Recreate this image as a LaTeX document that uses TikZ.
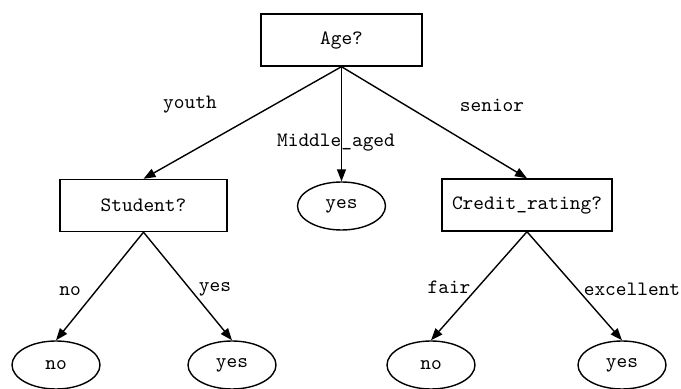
\documentclass[tikz,border=0pt]{standalone}
\usetikzlibrary{shapes.geometric,arrows.meta}

\tikzset{
    frage/.style={draw, rectangle, minimum height=26pt, inner sep=2pt, line width=0.7pt},
    blatt/.style={draw, ellipse, minimum width=44pt, minimum height=24pt, inner sep=0pt, line width=0.7pt},
    kante/.style={-{Triangle[length=6pt,width=4.5pt]}, line width=0.7pt},
    wert/.style={inner sep=0pt}
}

\begin{document}
\begin{tikzpicture}[x=0.5pt, y=-0.5pt, font=\ttfamily\fontsize{10.2}{12}\selectfont]
        \useasboundingbox (0,0) rectangle (681,389);

        % Fragen
        \node[frage, minimum width=80.5pt] (age) at (341.5,40) {Age?};
        \node[frage, minimum width=83.5pt] (student) at (143.5,205.5) {Student?};
        \node[frage, minimum width=85pt] (credit) at (527,205) {Credit\_rating?};

        % Blaetter
        \node[blatt] (mid) at (341.5,206) {yes};
        \node[blatt] (sno) at (56,365) {no};
        \node[blatt] (syes) at (232,365) {yes};
        \node[blatt] (cno) at (431,365) {no};
        \node[blatt] (cyes) at (622,365) {yes};

        % Kanten
        \draw[kante] (age.south) -- (student.north);
        \draw[kante] (age.south) -- (mid.north);
        \draw[kante] (age.south) -- (credit.north);
        \draw[kante] (student.south) -- (sno.north);
        \draw[kante] (student.south) -- (syes.north);
        \draw[kante] (credit.south) -- (cno.north);
        \draw[kante] (credit.south) -- (cyes.north);

        % Beschriftung der Kanten
        \node[wert] (lyouth) at (190,105) {youth};
        \node[wert] (lmid) at (336,143) {Middle\_aged};
        \node[wert] (lsenior) at (492,105) {senior};
        \node[wert] (lno) at (70,291) {no};
        \node[wert] (lyes) at (215,289) {yes};
        \node[wert] (lfair) at (449,287) {fair};
        \node[wert] (lexc) at (632,289) {excellent};
    \end{tikzpicture}
\end{document}
